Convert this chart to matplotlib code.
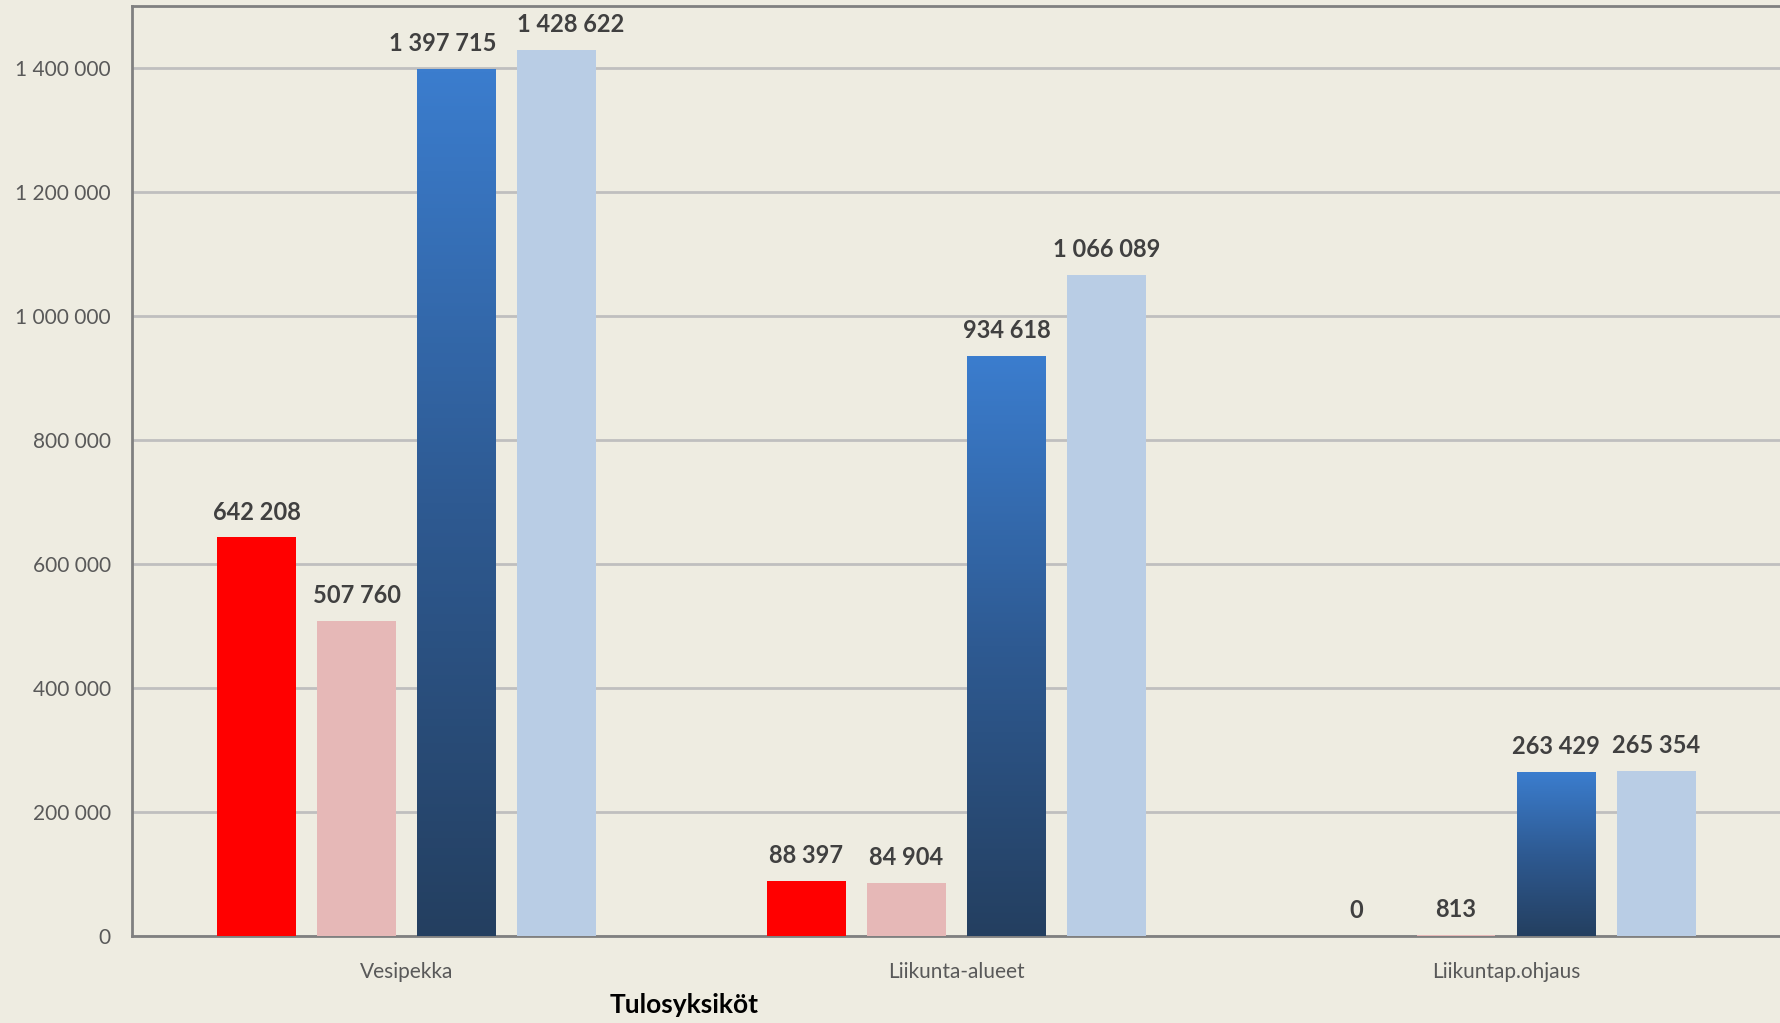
import matplotlib
matplotlib.use("Agg")
import matplotlib.pyplot as plt
import numpy as np
from matplotlib.colors import LinearSegmentedColormap

plt.rcParams['font.family'] = ['Lato', 'DejaVu Sans']

# Data
categories = ['Vesipekka', 'Liikunta-alueet', 'Liikuntap.ohjaus']
series_a = [642208, 88397, 0]          # red
series_b = [507760, 84904, 813]        # pink
series_c = [1397715, 934618, 263429]   # blue gradient
series_d = [1428622, 1066089, 265354]  # light blue
yticks = [0, 200000, 400000, 600000, 800000, 1000000, 1200000, 1400000]

bg = '#EEECE1'
fig = plt.figure(figsize=(17.81, 10.23), dpi=100, facecolor=bg)
ax = fig.add_axes([0.074, 0.0855, 0.926, 0.909])
ax.set_facecolor(bg)

x = np.arange(len(categories))
w = 0.143
offs = [-0.273, -0.091, 0.091, 0.273]

ax.bar(x + offs[0], series_a, w, color='#FF0000', zorder=3)
ax.bar(x + offs[1], series_b, w, color='#E6B8B7', zorder=3)
blue_bars = ax.bar(x + offs[2], series_c, w, color='none', zorder=3)
ax.bar(x + offs[3], series_d, w, color='#B9CDE5', zorder=3)

# vertical gradient on each dark blue bar (dark at bottom, bright at top)
cmap = LinearSegmentedColormap.from_list('bl', ['#243F60', '#2E5A92', '#3B7DCE'])
grad = np.linspace(0, 1, 256).reshape(-1, 1)
for b in blue_bars:
    x0, h = b.get_x(), b.get_height()
    im = ax.imshow(grad, extent=[x0, x0 + b.get_width(), 0, h], origin='lower',
                   aspect='auto', cmap=cmap, zorder=3)
    im.set_clip_path(b)

# value labels
def fmt(v):
    return f"{v:,}".replace(',', ' ')

# small sideways nudges where labels would collide (as in the original)
nudge = {(2, 0): -10, (3, 0): 10}
for s, (vals, o) in enumerate(zip([series_a, series_b, series_c, series_d], offs)):
    for i, v in enumerate(vals):
        ax.annotate(fmt(v), (x[i] + o, v), xytext=(nudge.get((s, i), 0), 10),
                    textcoords='offset points', ha='center', va='bottom',
                    fontsize=17, fontweight='bold', color='#404040', zorder=4)

ax.set_xlim(-0.5, 2.5)
ax.set_ylim(0, 1500000)
ax.set_yticks(yticks)
ax.set_yticklabels([fmt(t) for t in yticks])
ax.set_xticks(x)
ax.set_xticklabels(categories)
ax.tick_params(axis='both', length=0, labelsize=15, labelcolor='#595959')
ax.tick_params(axis='y', pad=15)
ax.tick_params(axis='x', pad=19)

ax.yaxis.grid(True, color='#BFBFBF', linewidth=2, zorder=0)
ax.set_axisbelow(True)

for s in ['left', 'top', 'bottom']:
    ax.spines[s].set_color('#808080')
    ax.spines[s].set_linewidth(2)
ax.spines['right'].set_visible(False)

fig.text(0.384, 0.018, 'Tulosyksiköt', ha='center', va='center',
         fontsize=19, fontweight='bold', color='black')

fig.savefig('out.png', dpi=100, facecolor=bg)
